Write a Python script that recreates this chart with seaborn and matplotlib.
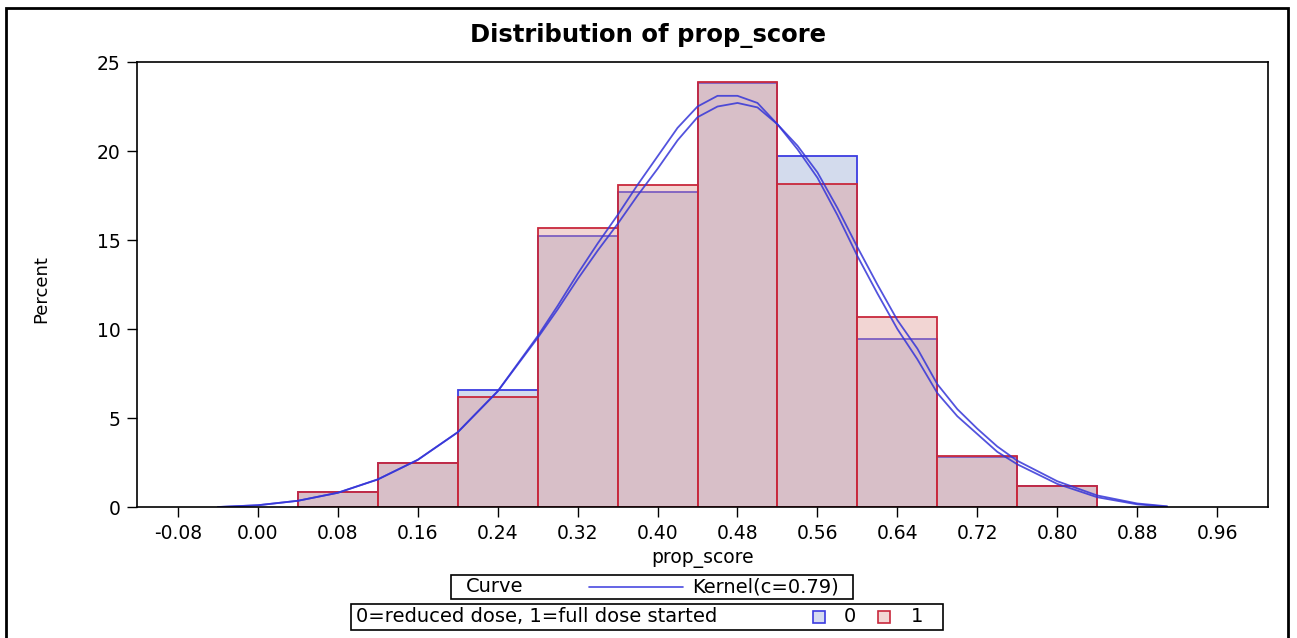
import numpy as np
import pandas as pd
import seaborn as sns
import matplotlib.pyplot as plt
from matplotlib.lines import Line2D
from matplotlib.patches import Rectangle
from matplotlib.offsetbox import AnchoredOffsetbox, HPacker, TextArea, DrawingArea

# histogram bins (midpoints) and percent per group
bin_mid = [0.08, 0.16, 0.24, 0.32, 0.40, 0.48, 0.56, 0.64, 0.72, 0.80]
pct_reduced = [0.85, 2.5, 6.6, 15.2, 17.7, 23.8, 19.7, 9.45, 2.8, 1.2]   # 0 = reduced dose
pct_full = [0.85, 2.5, 6.2, 15.65, 18.1, 23.85, 18.15, 10.65, 2.85, 1.2]  # 1 = full dose started
bin_width = 0.08

# kernel density curves (percent scale)
kde_x = [-0.04, 0.00, 0.04, 0.08, 0.12, 0.16, 0.20, 0.24,
         0.28, 0.30, 0.32, 0.34, 0.36, 0.38, 0.40,
         0.42, 0.44, 0.46, 0.48, 0.50,
         0.52, 0.54, 0.56, 0.58, 0.60,
         0.62, 0.64, 0.66, 0.68, 0.70,
         0.72, 0.74, 0.76, 0.80, 0.84,
         0.88, 0.91]
kde_reduced = [0.0, 0.1, 0.35, 0.8, 1.55, 2.65, 4.2, 6.5,
               9.5, 11.1, 12.8, 14.4, 15.9, 17.5, 19.0,
               20.6, 21.9, 22.5, 22.7, 22.45,
               21.5, 20.3, 18.8, 16.8, 14.6,
               12.5, 10.5, 8.9, 6.9, 5.5,
               4.4, 3.4, 2.6, 1.45, 0.65,
               0.2, 0.04]
kde_full = [0.0, 0.1, 0.35, 0.8, 1.55, 2.65, 4.2, 6.5,
            9.6, 11.3, 13.1, 14.8, 16.4, 18.1, 19.7,
            21.3, 22.5, 23.1, 23.1, 22.7,
            21.5, 20.1, 18.5, 16.4, 14.1,
            12.0, 10.0, 8.3, 6.4, 5.1,
            4.1, 3.1, 2.4, 1.3, 0.55,
            0.15, 0.02]

x_ticks = [-0.08, 0.00, 0.08, 0.16, 0.24, 0.32, 0.40, 0.48, 0.56, 0.64, 0.72, 0.80, 0.88, 0.96]
y_ticks = [0, 5, 10, 15, 20, 25]

blue_base = (0.57, 0.65, 0.83)
red_base = (0.88, 0.59, 0.57)
blue_edge = "#3c3ce0"
red_edge = "#c8283c"
curve_col = "#3535d8"

sns.set_theme(style="white")
plt.rcParams["font.family"] = ["DejaVu Sans"]
plt.rcParams["text.color"] = "black"
plt.rcParams["axes.labelcolor"] = "black"
plt.rcParams["xtick.color"] = "black"
plt.rcParams["ytick.color"] = "black"

fig = plt.figure(figsize=(12.97, 6.38), dpi=100)
ax = fig.add_axes([0.1056, 0.2053, 0.8721, 0.6975])

hist_df = pd.DataFrame({"prop_score": bin_mid, "reduced": pct_reduced, "full": pct_full})
lo = bin_mid[0] - bin_width / 2
hi = bin_mid[-1] + bin_width / 2
sns.histplot(data=hist_df, x="prop_score", weights="reduced", binwidth=bin_width,
             binrange=(lo, hi), ax=ax, color=blue_base, alpha=0.4,
             edgecolor=blue_edge, linewidth=1.3)
sns.histplot(data=hist_df, x="prop_score", weights="full", binwidth=bin_width,
             binrange=(lo, hi), ax=ax, color=red_base, alpha=0.4,
             edgecolor=red_edge, linewidth=1.3)

sns.lineplot(x=kde_x, y=kde_reduced, ax=ax, color=curve_col, lw=1.3, alpha=0.85,
             sort=False, estimator=None)
sns.lineplot(x=kde_x, y=kde_full, ax=ax, color=curve_col, lw=1.3, alpha=0.85,
             sort=False, estimator=None)

ax.set_xlim(-0.121, 1.011)
ax.set_ylim(0, 25)
ax.set_xticks(x_ticks)
ax.set_xticklabels([f"{t:.2f}" for t in x_ticks])
ax.set_yticks(y_ticks)
ax.tick_params(axis="both", direction="out", length=7, width=1, color="black",
               labelsize=13.5, bottom=True, left=True, pad=5)
for s in ax.spines.values():
    s.set_color("black")
    s.set_linewidth(1.2)
ax.set_xlabel("prop_score", fontsize=13.5)
ax.xaxis.set_label_coords(0.5, -0.095)
ax.set_ylabel("Percent", fontsize=13)
ax.yaxis.set_label_coords(-0.077, 0.49)
fig.suptitle("Distribution of prop_score", x=0.5, y=0.945, va="center",
             fontsize=17.5, fontweight="bold")

leg_txt = dict(size=14)


def spacer(w):
    return DrawingArea(w, 1, 0, 0)


def swatch(face, edge):
    da = DrawingArea(9, 9, 0, 0)
    da.add_artist(Rectangle((0, 0), 8.6, 8.6, facecolor=face, edgecolor=edge, lw=1.2))
    return da


# legend box 1: Curve ---- Kernel(c=0.79)
da_line = DrawingArea(68, 8, 0, 0)
da_line.add_artist(Line2D([0, 68], [4, 4], color="#4a4ae0", lw=1.2))
kernel_part = HPacker(children=[da_line, TextArea("Kernel(c=0.79)", textprops=leg_txt)],
                      align="center", pad=0, sep=6)
curve_part = HPacker(children=[TextArea("Curve", textprops=leg_txt), kernel_part],
                     align="center", pad=0, sep=47)
box1 = HPacker(children=[spacer(9), curve_part, spacer(9)], align="center", pad=0, sep=0)
leg1 = AnchoredOffsetbox(loc="center", child=box1, pad=0.15, borderpad=0, frameon=True,
                         bbox_to_anchor=(0.503, 0.080), bbox_transform=fig.transFigure)
leg1.patch.set_edgecolor("black")
leg1.patch.set_linewidth(1.2)
fig.add_artist(leg1)

# legend box 2: groups
grp0 = HPacker(children=[swatch("#d6dcf0", blue_edge), TextArea("0", textprops=leg_txt)],
               align="center", pad=0, sep=13)
grp1 = HPacker(children=[swatch("#f3d7d5", red_edge), TextArea("1", textprops=leg_txt)],
               align="center", pad=0, sep=14)
groups = HPacker(children=[grp0, grp1], align="center", pad=0, sep=16)
grp_part = HPacker(children=[TextArea("0=reduced dose, 1=full dose started", textprops=leg_txt),
                             groups], align="center", pad=0, sep=69)
box2 = HPacker(children=[spacer(1), grp_part, spacer(12)], align="center", pad=0, sep=0)
leg2 = AnchoredOffsetbox(loc="center", child=box2, pad=0.25, borderpad=0, frameon=True,
                         bbox_to_anchor=(0.499, 0.033), bbox_transform=fig.transFigure)
leg2.patch.set_edgecolor("black")
leg2.patch.set_linewidth(1.2)
fig.add_artist(leg2)

# outer frame
fig.add_artist(Rectangle((0.0046, -0.02), 0.9884, 1.0075, transform=fig.transFigure,
                         fill=False, edgecolor="black", lw=2))

fig.savefig("out.png", dpi=100)
